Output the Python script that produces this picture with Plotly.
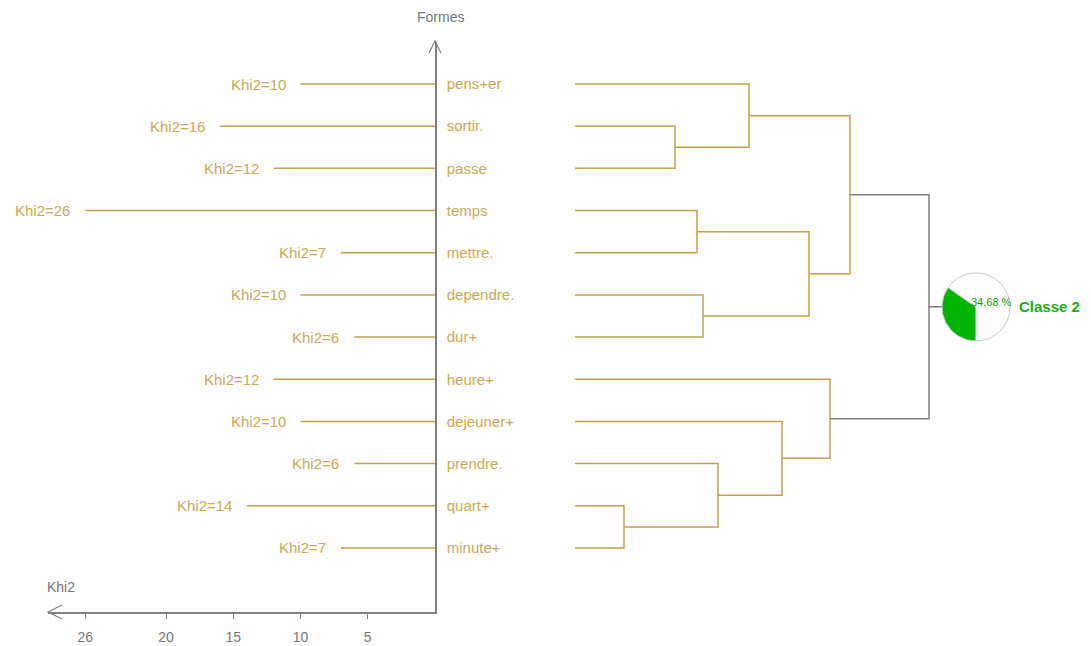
import plotly.graph_objects as go

W, H = 1091, 646

formes = ["pens+er", "sortir.", "passe", "temps", "mettre.", "dependre.", "dur+",
          "heure+", "dejeuner+", "prendre.", "quart+", "minute+"]
khi2 = [10, 16, 12, 26, 7, 10, 6, 12, 10, 6, 14, 7]
khi2_ticks = [26, 20, 15, 10, 5]

# dendrogram merges: (left node, right node, height); nodes >= 12 are earlier merges
merges = [(1, 2, 1.00), (0, 12, 1.74), (3, 4, 1.22), (5, 6, 1.28), (14, 15, 2.34),
          (13, 16, 2.75), (10, 11, 0.49), (9, 18, 1.43), (8, 19, 2.07), (7, 20, 2.55),
          (17, 21, 3.54)]
classe_label = "Classe 2"
classe_share = [34.68, 65.32]

GOLD = "#c2a24f"
GOLD_TXT = "#c9aa5a"
GREY = "#808080"
GREEN = "#00b400"
FONT = "Liberation Sans, Arial, sans-serif"
PX = 13.45  # pixels per khi2 unit


def px(x, y):
    return x / W, (H - y) / H


fig = go.Figure()

# khi2 bars
bx, by = [], []
for i, k in enumerate(khi2):
    bx += [0, k, None]
    by += [i, i, None]
fig.add_trace(go.Scatter(x=bx, y=by, mode="lines", line=dict(color=GOLD, width=1.5),
                         hoverinfo="skip", xaxis="x", yaxis="y"))

# dendrogram
node_y = {i: i for i in range(len(formes))}
node_h = {i: 0 for i in range(len(formes))}
gx, gy, rx, ry = [], [], [], []
for j, (a, b, h) in enumerate(merges):
    n = len(formes) + j
    xs = [node_h[a], h, h, node_h[b], None]
    ys = [node_y[a], node_y[a], node_y[b], node_y[b], None]
    if j == len(merges) - 1:
        rx += xs
        ry += ys
    else:
        gx += xs
        gy += ys
    node_y[n] = (node_y[a] + node_y[b]) / 2
    node_h[n] = h
root = len(formes) + len(merges) - 1
rx += [node_h[root], 3.68]
ry += [node_y[root], node_y[root]]
fig.add_trace(go.Scatter(x=gx, y=gy, mode="lines", line=dict(color=GOLD, width=1.5),
                         hoverinfo="skip", xaxis="x2", yaxis="y"))
fig.add_trace(go.Scatter(x=rx, y=ry, mode="lines", line=dict(color=GREY, width=1.5),
                         hoverinfo="skip", xaxis="x2", yaxis="y"))

# class pie
x0, y1 = px(942, 341)
x1, y0 = px(1010, 273)
fig.add_trace(go.Pie(values=classe_share, sort=False, direction="clockwise", rotation=180,
                     marker=dict(colors=[GREEN, "white"],
                                 line=dict(color=["#c8c8c8", "#c8c8c8"], width=1)),
                     textinfo="none", hoverinfo="skip", showlegend=False,
                     domain=dict(x=[x0, x1], y=[y1, y0])))

annotations = []
for i, k in enumerate(khi2):
    annotations.append(dict(x=k, y=i, xref="x", yref="y", text=f"Khi2={k}",
                            showarrow=False, xanchor="right", xshift=-13, yanchor="middle",
                            font=dict(color=GOLD_TXT, size=15, family=FONT)))
ax, ay = px(440, 17)
annotations.append(dict(x=ax, y=ay, xref="paper", yref="paper", text="Formes", showarrow=False,
                        yanchor="middle", font=dict(color="#777777", size=14, family=FONT)))
ax, ay = px(45, 587)
annotations.append(dict(x=ax, y=ay, xref="paper", yref="paper", text="Khi2", showarrow=False,
                        xanchor="left", yanchor="middle",
                        font=dict(color="#777777", size=14, family=FONT)))
ax, ay = px(969, 302)
annotations.append(dict(x=ax, y=ay, xref="paper", yref="paper", text=f"{classe_share[0]:.2f} %".replace(".", ","),
                        showarrow=False, xanchor="left", yanchor="middle",
                        font=dict(color="#1a9a1a", size=11, family=FONT)))
ax, ay = px(1017, 306)
annotations.append(dict(x=ax, y=ay, xref="paper", yref="paper", text=f"<b>{classe_label}</b>",
                        showarrow=False, xanchor="left", yanchor="middle",
                        font=dict(color="#22aa22", size=15, family=FONT)))

# axis arrowheads
def path(points):
    pts = [px(*p) for p in points]
    return "M " + " L ".join(f"{a},{b}" for a, b in pts)


shapes = [
    dict(type="path", xref="paper", yref="paper", path=path([(429, 53), (435, 41), (441, 53)]),
         line=dict(color=GREY, width=1.2)),
    dict(type="path", xref="paper", yref="paper", path=path([(62, 605), (48, 612), (62, 619)]),
         line=dict(color=GREY, width=1.2)),
]

fig.update_layout(
    width=W, height=H,
    margin=dict(l=0, r=0, t=0, b=0),
    paper_bgcolor="white", plot_bgcolor="white",
    showlegend=False,
    xaxis=dict(domain=[48 / W, 435 / W], range=[(435 - 48) / PX, 0], showline=True,
               linecolor=GREY, linewidth=1.5, ticks="outside", ticklen=5, tickcolor=GREY,
               tickvals=khi2_ticks, ticklabelstandoff=6, showgrid=False, zeroline=False,
               tickfont=dict(color="#777777", size=14, family=FONT), fixedrange=True),
    xaxis2=dict(domain=[575 / W, 943 / W], range=[0, 3.68], anchor="y", visible=False),
    yaxis=dict(domain=[34 / H, 1 - 42 / H], range=[12.518, -0.996], side="right", anchor="x",
               showline=True, linecolor=GREY, linewidth=1.5, tickvals=list(range(len(formes))),
               ticktext=formes, ticks="", ticklabelstandoff=7, showgrid=False, zeroline=False,
               tickfont=dict(color=GOLD_TXT, size=15, family=FONT)),
    annotations=annotations,
    shapes=shapes,
)

fig.write_html("out.html", config={"displayModeBar": False},
               post_script="document.body.style.margin='0';")
